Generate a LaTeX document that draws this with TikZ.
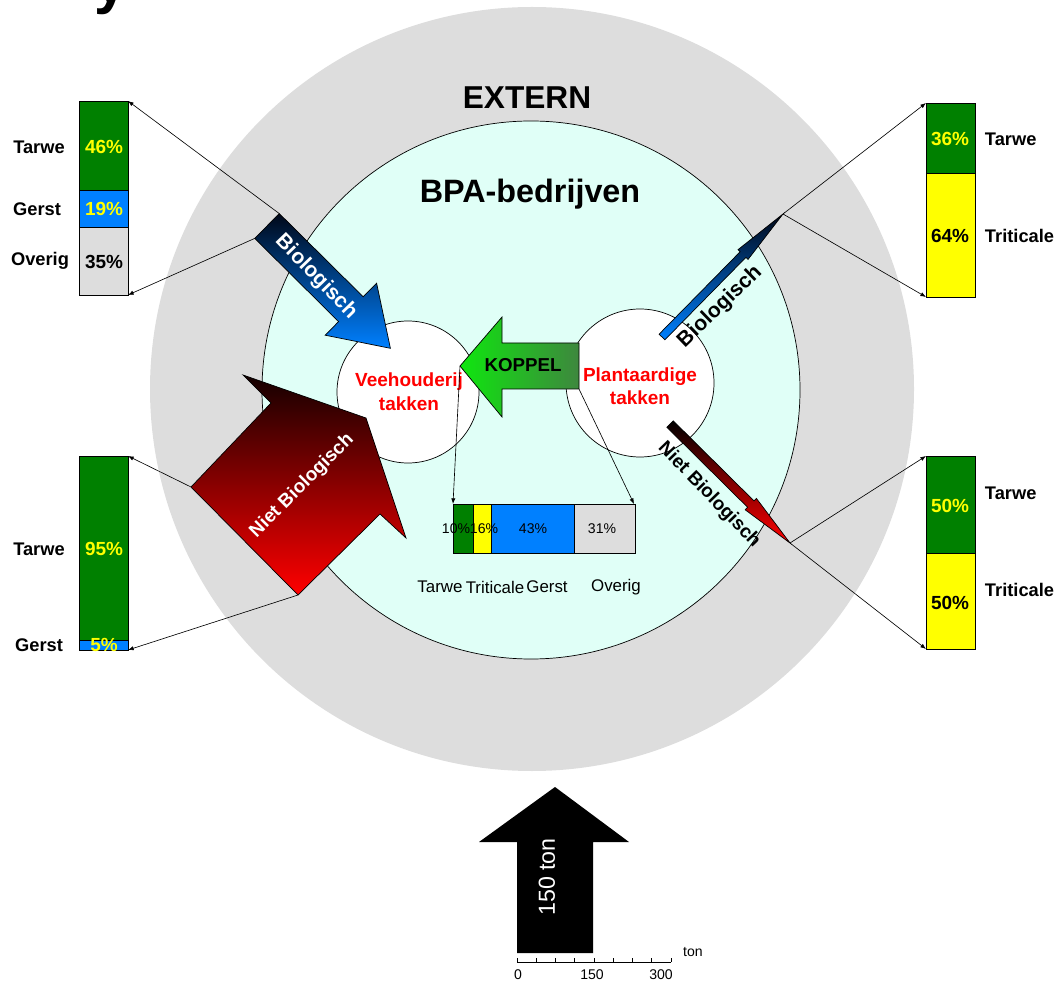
\documentclass[tikz,border=0pt]{standalone}
\usepackage{fontspec}
\setmainfont{Liberation Sans}
\usetikzlibrary{arrows.meta, positioning, calc}

\definecolor{extgray}{RGB}{221,221,221}
\definecolor{bpamint}{RGB}{224,255,247}
\definecolor{tarwe}{RGB}{0,128,0}
\definecolor{gerst}{RGB}{0,128,255}
\definecolor{overig}{RGB}{221,221,221}
\definecolor{triticale}{RGB}{255,255,0}
\definecolor{koppellight}{RGB}{15,230,15}
\definecolor{koppeldark}{RGB}{62,135,62}
\definecolor{darknavy}{RGB}{0,8,25}
\definecolor{darkmaroon}{RGB}{20,0,0}

\begin{document}
\begin{tikzpicture}[x=0.025cm, y=-0.025cm,
  conn/.style={-{Latex[length=4pt,width=3pt]}, line width=0.45pt},
  seg/.style={draw=black, line width=0.6pt},
  cat/.style={font=\bfseries\fontsize{13}{15}\selectfont},
  val/.style={font=\bfseries\fontsize{13.5}{15}\selectfont},
  small/.style={font=\fontsize{10}{12}\selectfont},
  flow/.style={draw=black, line width=0.5pt}]
  \useasboundingbox (0,0) rectangle (1064,983);
  % cut-off title
  \node[font=\bfseries\fontsize{42}{46}\selectfont, anchor=base] (titley) at (111,3) {y};
  % rings
  \fill[extgray] (532,389) circle[radius=382];
  \filldraw[fill=bpamint, draw=black, line width=0.5pt] (531,390) circle[radius=269];
  \node[font=\bfseries\fontsize{22.5}{26}\selectfont] (extern) at (527,98) {EXTERN};
  \node[font=\bfseries\fontsize{23}{26}\selectfont] (bpa) at (530,194) {BPA-bedrijven};
  % branches
  \filldraw[fill=white, draw=black, line width=0.5pt] (408,392) circle[radius=71];
  \filldraw[fill=white, draw=black, line width=0.5pt] (640,383) circle[radius=74];
  \node[font=\bfseries\fontsize{13.5}{17}\selectfont, text=red, align=center] (veeh) at (409,392) {Veehouderij\\takken};
  \node[font=\bfseries\fontsize{13.5}{16.5}\selectfont, text=red, align=center] (plant) at (640,386) {Plantaardige\\takken};

  % KOPPEL
  \coordinate (kTip) at (460,366);
  \coordinate (kEnd) at (579,389);
  \path[flow, left color=koppellight, right color=koppeldark]
    (kTip) -- (502,317) -- (502,343) -- (579,343) -- (kEnd) -- (502,389) -- (502,417) -- cycle;
  \node[font=\bfseries\fontsize{13.3}{15}\selectfont] (koppel) at (523,365) {KOPPEL};

  % centre bar
  \foreach \xa/\xb/\c in {453/473/tarwe, 473/491/triticale, 491/574/gerst, 574/635/overig}
    \filldraw[seg, fill=\c] (\xa,504) rectangle (\xb,553);
  \coordinate (cTL) at (453,504);
  \coordinate (cTR) at (634,504);
  \foreach \x/\t [count=\i] in {456/10\%, 484/16\%, 533/43\%, 602/31\%}
    \node[small] (cp\i) at (\x,529) {\t};
  \foreach \x/\t [count=\i] in {440/Tarwe, 495/Triticale, 547/Gerst, 616/Overig}
    \node[font=\fontsize{12}{14}\selectfont] (cn\i) at (\x,587) {\t};
  \draw[conn] (kTip) -- (cTL);
  \draw[conn] (kEnd) -- (cTR);

  % left top bar
  \foreach \ya/\yb/\c in {101/190/tarwe, 190/227/gerst, 227/295/overig}
    \filldraw[seg, fill=\c] (79,\ya) rectangle (128,\yb);
  \node[val, text=triticale] (lt1) at (104,147) {46\%};
  \node[val, text=triticale] (lt2) at (104,209) {19\%};
  \node[val] (lt3) at (104,262) {35\%};
  \node[cat] (ltn1) at (39,147) {Tarwe};
  \node[cat] (ltn2) at (37,209) {Gerst};
  \node[cat] (ltn3) at (40,261) {Overig};

  % left bottom bar
  \filldraw[seg, fill=tarwe] (79,456) rectangle (128,640);
  \filldraw[seg, fill=gerst] (79,640) rectangle (128,650);
  \node[val, text=triticale] (lb1) at (104,549) {95\%};
  \node[val, text=triticale] (lb2) at (104,645) {5\%};
  \node[cat] (lbn1) at (39,549) {Tarwe};
  \node[cat] (lbn2) at (39,645) {Gerst};

  % right top bar
  \filldraw[seg, fill=tarwe] (926,103) rectangle (975,173);
  \filldraw[seg, fill=triticale] (926,173) rectangle (975,297);
  \node[val, text=triticale] (rt1) at (950,139) {36\%};
  \node[val] (rt2) at (950,236) {64\%};
  \node[cat, anchor=west] (rtn1) at (980,139) {Tarwe};
  \node[cat, anchor=west] (rtn2) at (980,236) {Triticale};

  % right bottom bar
  \filldraw[seg, fill=tarwe] (926,456) rectangle (975,553);
  \filldraw[seg, fill=triticale] (926,553) rectangle (975,649);
  \node[val, text=triticale] (rb1) at (950,506) {50\%};
  \node[val] (rb2) at (950,603) {50\%};
  \node[cat, anchor=west] (rbn1) at (980,493) {Tarwe};
  \node[cat, anchor=west] (rbn2) at (980,590) {Triticale};

  % flow arrows
  \coordinate (bioA) at (279.3,213.6);
  \coordinate (bioB) at (254.7,238.4);
  \path[flow, top color=darknavy, bottom color=gerst]
    (bioA) -- (363.2,296.8) -- (376.6,283.2) -- (390.4,348.3) -- (325.2,335.2) -- (338.6,321.6) -- (bioB) -- cycle;
  \node[font=\bfseries\fontsize{15}{17}\selectfont, text=white, rotate=-46] (biol) at (316,277) {Biologisch};

  \coordinate (nbA) at (191,487);
  \coordinate (nbB) at (298,595);
  \path[flow, top color=darkmaroon, bottom color=red]
    (243,375) -- (366,418) -- (406,538) -- (380,514) -- (nbB) -- (nbA) -- (271,403) -- cycle;
  \node[font=\bfseries\fontsize{13.5}{15}\selectfont, text=white, rotate=45] (nbiol) at (302,486) {Niet Biologisch};

  \coordinate (rbTip) at (783,214);
  \path[flow, top color=darknavy, bottom color=gerst]
    (664.9,339.8) -- (745.9,257.4) -- (748.0,259.5) -- (rbTip) -- (738.0,249.7) -- (740.1,251.8) -- (659.1,334.2) -- cycle;
  \node[font=\bfseries\fontsize{15}{17}\selectfont, rotate=44] (biolr) at (720,307) {Biologisch};

  \coordinate (rnTip) at (790,543);
  \path[flow, top color=black, bottom color=red]
    (673.2,420.8) -- (754.0,500.9) -- (756.4,498.4) -- (rnTip) -- (745.2,509.8) -- (747.6,507.3) -- (666.8,427.2) -- cycle;
  \node[font=\bfseries\fontsize{13.5}{15}\selectfont, rotate=-46] (nbiolr) at (709,495) {Niet Biologisch};

  % connectors to bars
  \draw[conn] (bioA) -- (128,101);
  \draw[conn] (bioB) -- (128,295);
  \draw[conn] (nbA) -- (128,456);
  \draw[conn] (nbB) -- (128,650);
  \draw[conn] (rbTip) -- (926,103);
  \draw[conn] (rbTip) -- (926,297);
  \draw[conn] (rnTip) -- (926,456);
  \draw[conn] (rnTip) -- (926,649);

  % scale arrow
  \fill[black] (555,787) -- (629,842) -- (593,842) -- (593,953) -- (517,953) -- (517,842) -- (479,842) -- cycle;
  \node[text=white, rotate=90, font=\fontsize{16.5}{18}\selectfont] (tons) at (547,877) {150 ton};
  \draw[line width=0.6pt] (517,962) -- (671,962);
  \foreach \i in {0,...,8}
    \draw[line width=0.6pt] (517+\i*19.25,962) -- ++(0,-4);
  \node[small] (s0) at (518,975) {0};
  \node[small] (s150) at (592,975) {150};
  \node[small] (s300) at (661,975) {300};
  \node[small] (ston) at (693,952) {ton};
\end{tikzpicture}
\end{document}
